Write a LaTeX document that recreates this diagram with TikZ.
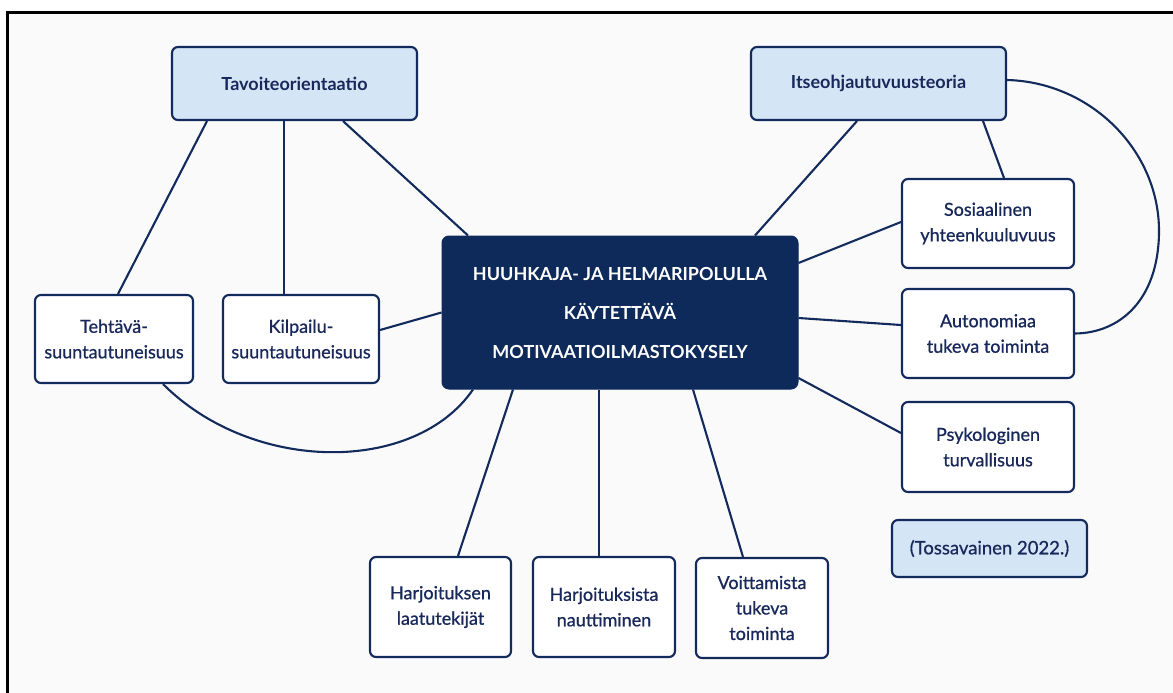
\documentclass[tikz,border=0pt]{standalone}
\usepackage{fontspec}
\setmainfont{Lato}
\newfontfamily\medfont{Lato}[FakeBold=0.8]
\definecolor{navy}{HTML}{132A5C}
\definecolor{hubblue}{HTML}{0E2A5A}
\definecolor{lightblue}{HTML}{D4E5F6}
\definecolor{bgc}{HTML}{FAFAFB}
\definecolor{txt}{HTML}{18285A}
\begin{document}
\begin{tikzpicture}[x=1pt,y=1pt,
  box/.style={draw=navy, line width=2.1pt, rounded corners=6pt, fill=white, text=txt,
    align=center, inner sep=0pt, font=\medfont\fontsize{18}{25.5}\selectfont},
  head/.style={box, fill=lightblue, font=\bfseries\fontsize{18}{24}\selectfont},
  note/.style={box, fill=lightblue, font=\medfont\fontsize{18.5}{24}\selectfont},
  hub/.style={draw=hubblue, fill=hubblue, line width=1pt, rounded corners=7pt, text=white,
    align=center, inner sep=0pt, font=\bfseries\fontsize{18}{39}\selectfont},
  link/.style={draw=navy, line width=2.1pt}]
\useasboundingbox (0,0) rectangle (1173,-693);
\fill[white] (0,0) rectangle (1173,-693);
\fill[bgc] (7,-13) rectangle (1173,-693);
\draw[line width=3pt, black] (7,-693) -- (7,-13) -- (1173,-13);

% nodes
\node[head, minimum width=245pt, minimum height=73pt] (tavo) at (294.5,-83.5) {Tavoiteorientaatio};
\node[head, minimum width=255pt, minimum height=73pt] (itse) at (878.5,-83.5) {Itseohjautuvuusteoria};
\node[hub, minimum width=356pt, minimum height=153pt] (hub) at (620,-312.5)
  {HUUHKAJA- JA HELMARIPOLULLA\\KÄYTETTÄVÄ\\MOTIVAATIOILMASTOKYSELY};
\node[box, minimum width=158pt, minimum height=88pt] (teht) at (114,-339) {Tehtävä-\\suuntautuneisuus};
\node[box, minimum width=156pt, minimum height=88pt] (kilp) at (301,-339) {Kilpailu-\\suuntautuneisuus};
\node[box, minimum width=172pt, minimum height=89pt] (sos) at (988,-223.5) {Sosiaalinen\\yhteenkuuluvuus};
\node[box, minimum width=172pt, minimum height=89pt] (auto) at (988,-333.5) {Autonomiaa\\tukeva toiminta};
\node[box, minimum width=172pt, minimum height=90pt] (psyk) at (988,-447) {Psykologinen\\turvallisuus};
\node[note, minimum width=195pt, minimum height=57pt] (toss) at (989.5,-548.5) {(Tossavainen 2022.)};
\node[box, minimum width=141pt, minimum height=100pt] (harj1) at (440.5,-607) {Harjoituksen\\laatutekijät};
\node[box, minimum width=142pt, minimum height=100pt] (harj2) at (604,-607) {Harjoituksista\\nauttiminen};
\node[box, minimum width=132pt, minimum height=100pt] (voit) at (762,-608) {Voittamista\\tukeva\\toiminta};

% connectors
\draw[link] ([xshift=-87.5pt]tavo.south) -- ([xshift=4pt]teht.north);
\draw[link] ([xshift=-10.5pt]tavo.south) -- ([xshift=-17pt]kilp.north);
\draw[link] ([xshift=48.5pt]tavo.south) -- ([xshift=-152pt]hub.north);
\draw[link] ([yshift=9pt]kilp.east) -- (hub.west);
\draw[link] ([xshift=49pt]teht.south) .. controls (253,-474) and (415,-474) .. ([xshift=-147pt]hub.south);
\draw[link] ([xshift=-21.5pt]itse.south) -- ([xshift=135pt]hub.north);
\draw[link] ([xshift=104.5pt]itse.south) -- ([xshift=16pt]sos.north);
\draw[link] ([yshift=3.5pt]itse.east) .. controls (1090,-82) and (1160,-150) .. (1159,-233)
  .. controls (1158,-300) and (1120,-333) .. (auto.east);
\draw[link] ([yshift=49.5pt]hub.east) -- ([yshift=1.5pt]sos.west);
\draw[link] ([yshift=-5.5pt]hub.east) -- ([yshift=8.5pt]auto.west);
\draw[link] ([yshift=-65.5pt]hub.east) -- ([yshift=14pt]psyk.west);
\draw[link] ([xshift=-107pt]hub.south) -- ([xshift=17.5pt]harj1.north);
\draw[link] ([xshift=-21pt]hub.south) -- ([xshift=-5pt]harj2.north);
\draw[link] ([xshift=73pt]hub.south) -- ([xshift=-19pt]voit.north);
\end{tikzpicture}
\end{document}
